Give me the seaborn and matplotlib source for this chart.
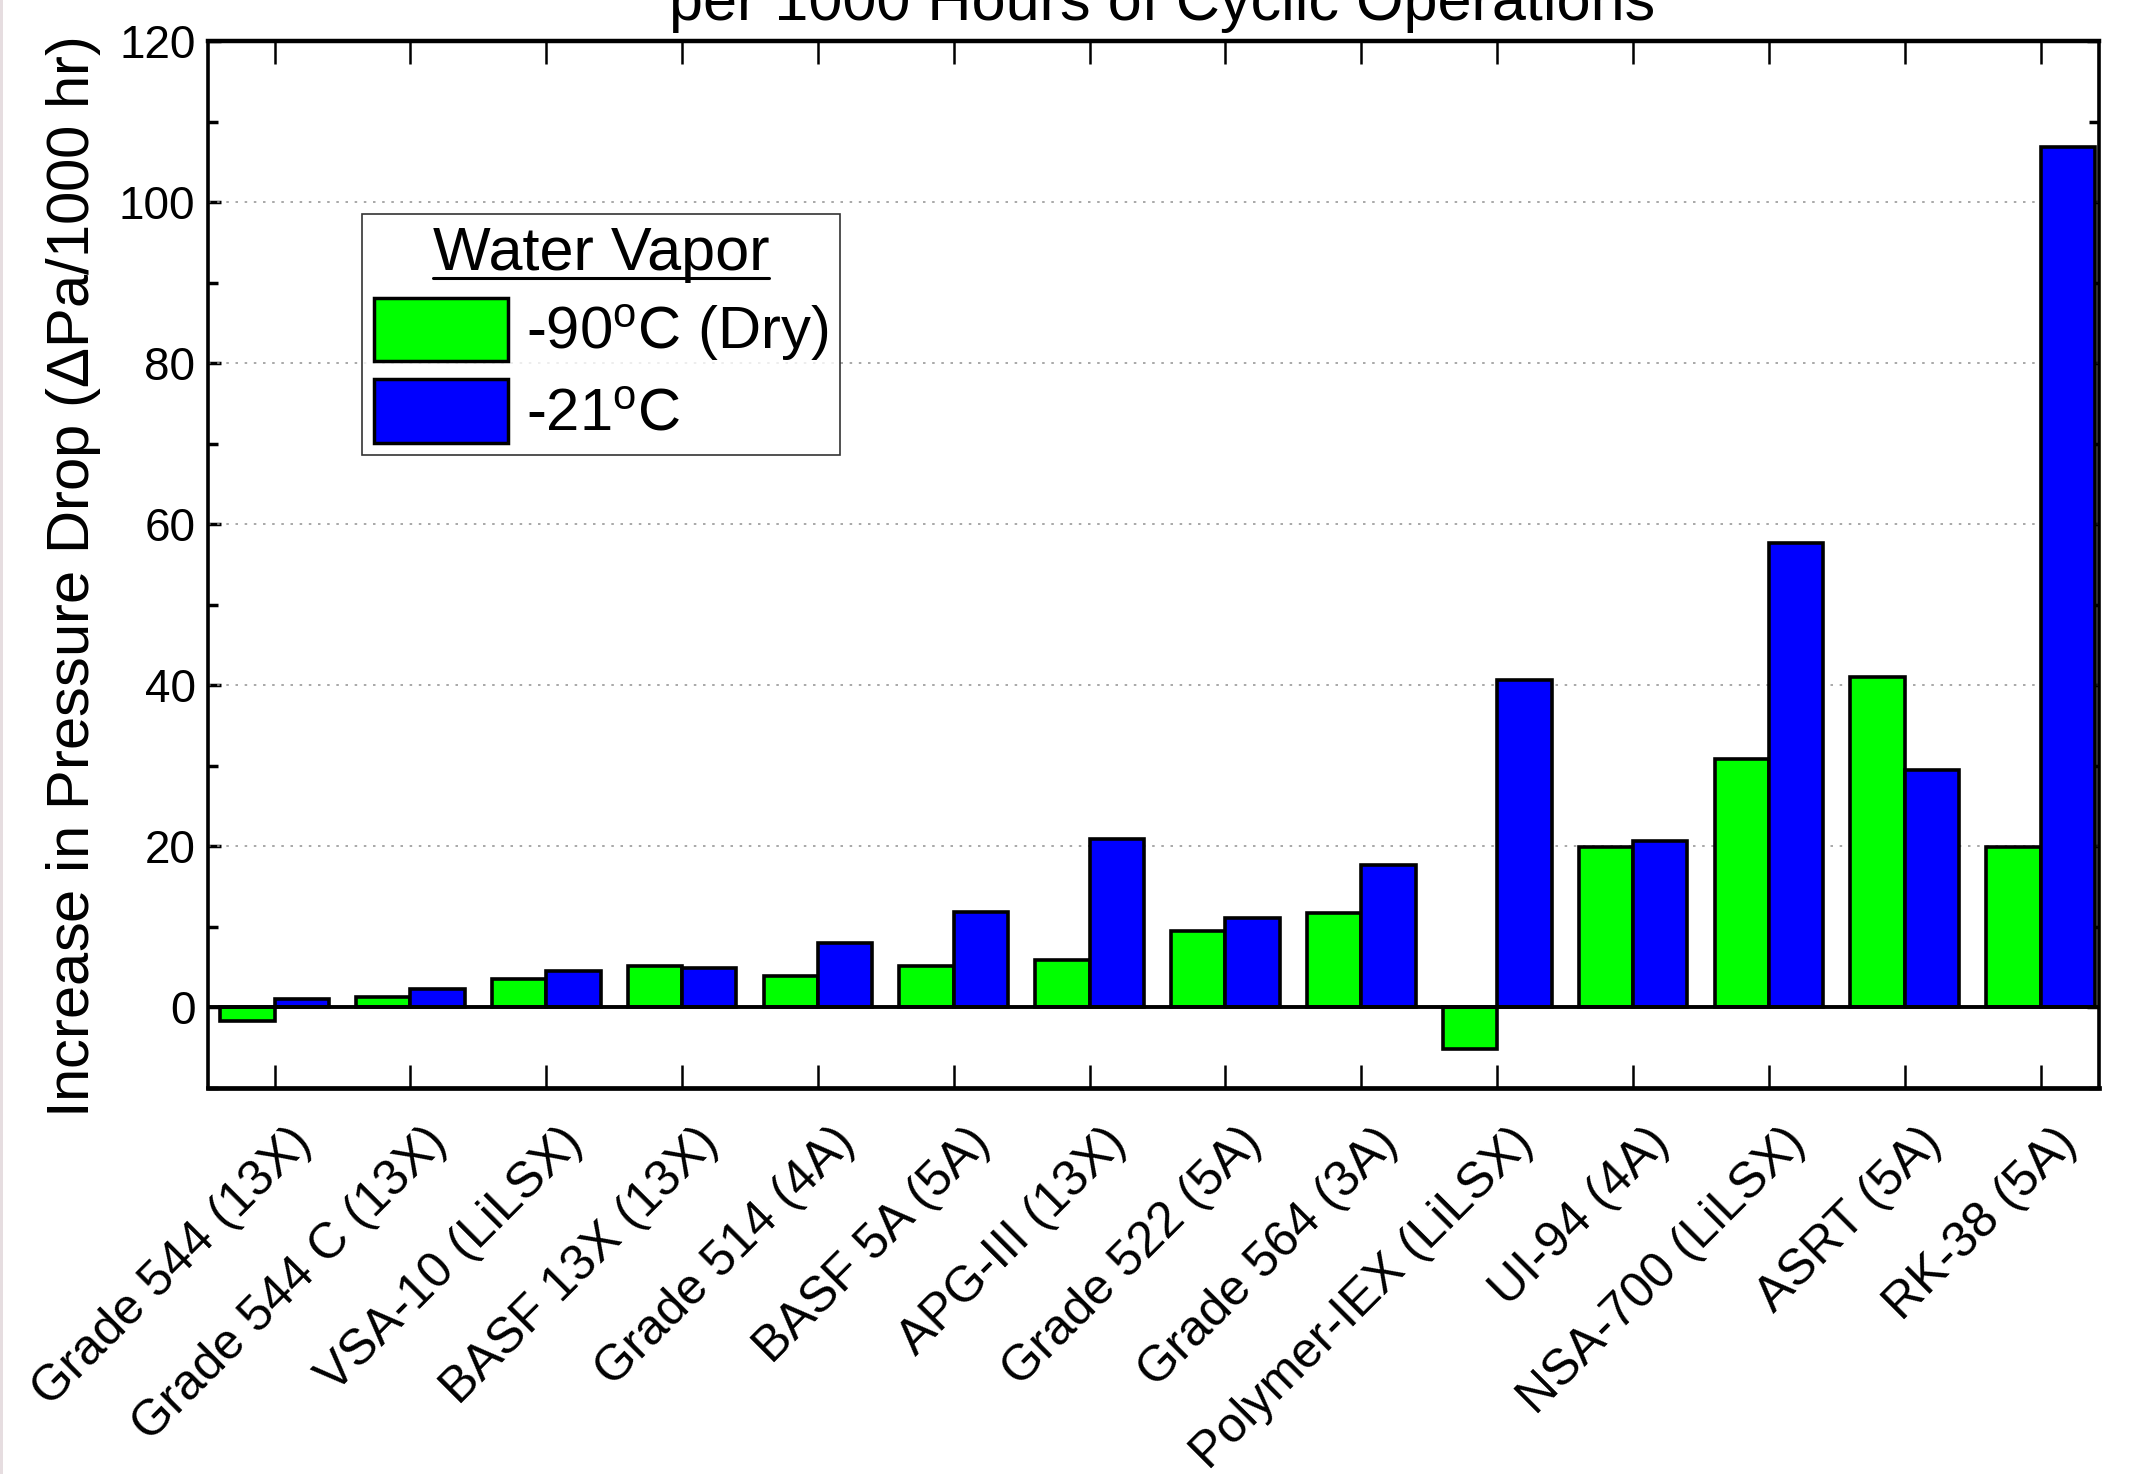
import matplotlib
matplotlib.use("Agg")
import matplotlib.pyplot as plt
import matplotlib.transforms as mtransforms
import seaborn as sns
import pandas as pd
from matplotlib.ticker import MultipleLocator
from matplotlib.lines import Line2D
from matplotlib.patches import Rectangle

categories = ["Grade 544 (13X)", "Grade 544 C (13X)", "VSA-10 (LiLSX)", "BASF 13X (13X)",
              "Grade 514 (4A)", "BASF 5A (5A)", "APG-III (13X)", "Grade 522 (5A)",
              "Grade 564 (3A)", "Polymer-IEX (LiLSX)", "UI-94 (4A)", "NSA-700 (LiLSX)",
              "ASRT (5A)", "RK-38 (5A)"]
series = ["-90$^{\\rm o}$C (Dry)", "-21$^{\\rm o}$C"]
dry_values = [-1.7, 1.3, 3.5, 5.1, 3.9, 5.2, 5.9, 9.5, 11.7, -5.1, 19.9, 30.9, 41.0, 19.9]
wet_values = [1.1, 2.3, 4.5, 4.9, 8.0, 11.9, 20.9, 11.1, 17.7, 40.7, 20.7, 57.7, 29.5, 106.8]
yticks = [0, 20, 40, 60, 80, 100, 120]
colors = ["#00FF00", "#0000FF"]

df = pd.DataFrame({
    "Material": categories * 2,
    "Value": dry_values + wet_values,
    "Water Vapor": [series[0]] * len(categories) + [series[1]] * len(categories),
})

sns.set_style("white")
plt.rcParams["font.family"] = ["Liberation Sans", "DejaVu Sans"]
plt.rcParams["mathtext.fontset"] = "custom"
plt.rcParams["mathtext.rm"] = "Liberation Sans"
plt.rcParams["mathtext.it"] = "Liberation Sans:italic"
plt.rcParams["mathtext.bf"] = "Liberation Sans:bold"
plt.rcParams["text.color"] = "black"
plt.rcParams["axes.labelcolor"] = "black"
plt.rcParams["xtick.color"] = "black"
plt.rcParams["ytick.color"] = "black"

FS_TICK = 33
FS_XT = 36
FS_BIG = 43
fig = plt.figure(figsize=(21.41, 14.74), dpi=100)
fig.add_artist(Rectangle((0, 0), 3 / 2141, 1, transform=fig.transFigure,
                         facecolor="#e6dde0", edgecolor="none"))
ax = fig.add_axes([208 / 2141, 1 - 1088 / 1474, (2099 - 208) / 2141, (1088 - 41) / 1474])

sns.barplot(data=df, x="Material", y="Value", hue="Water Vapor", palette=colors,
            saturation=1, width=0.8, edgecolor="black", linewidth=2.6, ax=ax, zorder=3)

ax.set_xlim(-0.49, 13.43)
ax.set_ylim(-10, 120)
ax.set_yticks(yticks)
ax.yaxis.set_minor_locator(MultipleLocator(10))
ax.axhline(0, color="black", lw=2.8, zorder=4)
for v in [20, 40, 60, 80, 100]:
    ax.axhline(v, color="#999999", lw=1.2, ls=(0, (1.5, 4)), zorder=1)

for s in ax.spines.values():
    s.set_visible(True)
    s.set_color("black")
    s.set_linewidth(2.6)
ax.spines["bottom"].set_linewidth(3.4)
ax.spines["top"].set_linewidth(3.2)

ax.tick_params(axis="x", which="major", direction="in", top=True, bottom=True,
               length=16.5, width=1.8, color="black", labelsize=FS_XT, pad=8)
ax.tick_params(axis="y", which="major", direction="in", left=True, right=True,
               length=9, width=2.5, color="black", labelsize=FS_TICK, pad=9)
ax.tick_params(axis="y", which="minor", direction="in", left=True, right=True,
               length=7, width=2.5, color="black")

offset = mtransforms.ScaledTranslation(0.13, -0.20, fig.dpi_scale_trans)
for lbl in ax.get_xticklabels():
    lbl.set_rotation(45)
    lbl.set_ha("right")
    lbl.set_va("top")
    lbl.set_rotation_mode("anchor")
    lbl.set_transform(lbl.get_transform() + offset)

ax.set_xlabel("")
ax.set_ylabel("Increase in Pressure Drop ($\\Delta$Pa/1000 hr)", fontsize=FS_BIG, labelpad=10)
ax.yaxis.set_label_coords(-0.0555, 0.488)

handles, labels = ax.get_legend_handles_labels()
leg = ax.legend(handles, labels, title="Water Vapor", loc="upper left",
                bbox_to_anchor=(0.0814, 0.8348), borderaxespad=0, fontsize=FS_BIG,
                title_fontsize=FS_BIG + 1, fancybox=False, frameon=True, edgecolor="black",
                handlelength=2.24, handleheight=1.26, handletextpad=0.3,
                labelspacing=0.25, borderpad=0.2)
leg.get_frame().set_linewidth(1.2)
leg.set_zorder(10)
for h in leg.legend_handles:
    h.set_edgecolor("black")
    h.set_linewidth(2.5)

fig.text(0.543, 1 - 20 / 1474, "per 1000 Hours of Cyclic Operations", ha="center",
         va="baseline", fontsize=FS_BIG + 1)

fig.canvas.draw()
r = fig.canvas.get_renderer()
tb = leg.get_title().get_window_extent(r)
yline = tb.y0 + 0.08 * tb.height
fig.add_artist(Line2D([tb.x0, tb.x1], [yline, yline], transform=None, color="black", lw=2.2))

fig.savefig("out.png", dpi=100)
